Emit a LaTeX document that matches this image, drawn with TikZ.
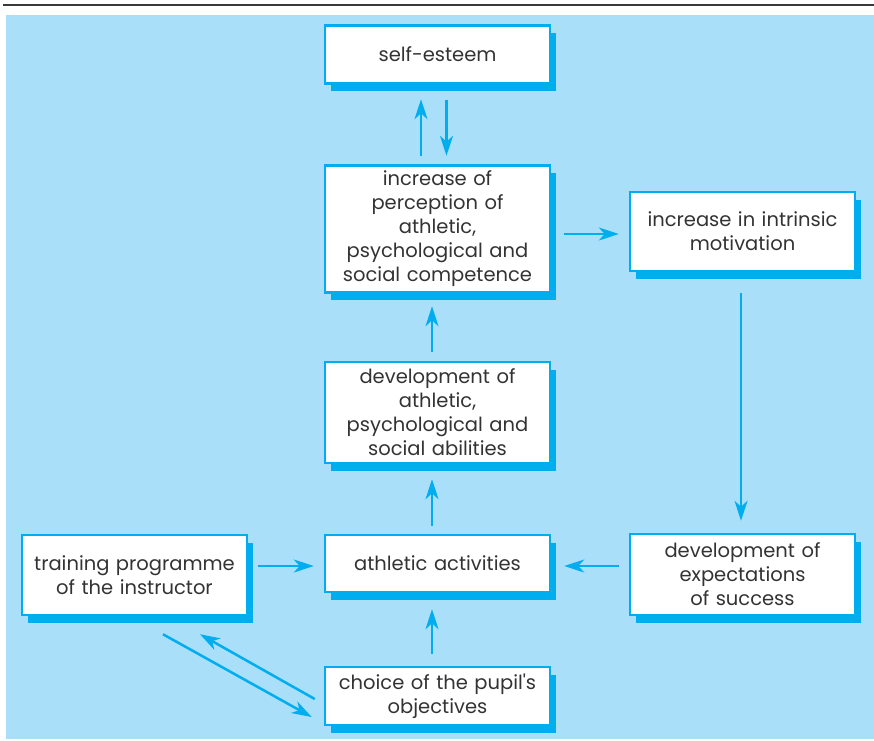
\documentclass[tikz,border=0pt]{standalone}
\usepackage{fontspec}
\setmainfont{Poppins}
\usetikzlibrary{arrows.meta,shadows}
\definecolor{bgblue}{HTML}{A9DFF9}
\definecolor{linecyan}{HTML}{00AEEF}
\definecolor{txt}{HTML}{333333}
\definecolor{rule}{HTML}{3A3A3A}
\begin{document}
\begin{tikzpicture}[x=1pt,y=-1pt,
  box/.style={draw=linecyan, line width=2.5pt, fill=white,
    minimum width=225pt, text width=219pt, align=center, inner sep=0pt,
    font=\fontsize{19.5}{24}\selectfont, text=txt,
    general shadow={shadow xshift=5.5pt, shadow yshift=-7.5pt, fill=linecyan}},
  arr/.style={draw=linecyan, line width=2.5pt,
    -{Stealth[length=20pt, width=13pt, inset=6pt]}}
  ]
% page frame, top rule and tinted panel
\useasboundingbox (0,0) rectangle (874,740);
\fill[bgblue] (6,15) rectangle (874,739);
\draw[rule, line width=2pt] (3,4.5) -- (874,4.5);

% boxes
\node[box, minimum height=58pt]  (se)     at (437.5,54.5) {self-esteem};
\node[box, minimum height=127pt] (perc)   at (437.5,229) {increase of\\perception of\\athletic,\\psychological and\\social competence};
\node[box, minimum height=79pt]  (intr)   at (742.5,231.5) {increase in intrinsic\\motivation};
\node[box, minimum height=101pt] (dev)    at (437.5,412.5) {development of\\athletic,\\psychological and\\social abilities};
\node[box, minimum height=57pt]  (act)    at (437.5,563.5) {athletic activities};
\node[box, minimum height=80pt]  (train)  at (134.5,575) {training programme\\of the instructor};
\node[box, minimum height=81pt]  (expect) at (742.5,574.5) {development of\\expectations\\of success};
\node[box, minimum height=58pt]  (choice) at (437.5,696) {choice of the pupil\textquotesingle s\\objectives};

% connectors
\draw[arr] ([xshift=-16.5pt,yshift=8.5pt]perc.north) -- ([xshift=-16.5pt,yshift=-14.5pt]se.south);
\draw[arr] ([xshift=9pt,yshift=-15.5pt]se.south) -- ([xshift=9pt,yshift=8.5pt]perc.north);
\draw[arr] ([xshift=13pt,yshift=-5pt]perc.east) -- ([xshift=-10pt,yshift=-2.5pt]intr.west);
\draw[arr] ([xshift=-5.5pt,yshift=9pt]dev.north) -- ([xshift=-5.5pt,yshift=-12.5pt]perc.south);
\draw[arr] ([xshift=-5.5pt,yshift=8pt]act.north) -- ([xshift=-5.5pt,yshift=-15pt]dev.south);
\draw[arr] ([xshift=-1.5pt,yshift=-21pt]intr.south) -- ([xshift=-1.5pt,yshift=12pt]expect.north);
\draw[arr] ([xshift=-10pt,yshift=8.5pt]expect.west) -- ([xshift=13pt,yshift=-2.5pt]act.east);
\draw[arr] ([xshift=10pt,yshift=9pt]train.east) -- ([xshift=-10pt,yshift=-2.5pt]act.west);
\draw[arr] ([xshift=-5.5pt,yshift=12pt]choice.north) -- ([xshift=-5.5pt,yshift=-16pt]act.south);
\draw[arr] ([xshift=28.5pt,yshift=-18pt]train.south) -- ([xshift=-12pt,yshift=-21pt]choice.west);
\draw[arr] ([xshift=-9pt,yshift=-3pt]choice.west) -- ([xshift=65.5pt,yshift=-18pt]train.south);
\end{tikzpicture}
\end{document}
